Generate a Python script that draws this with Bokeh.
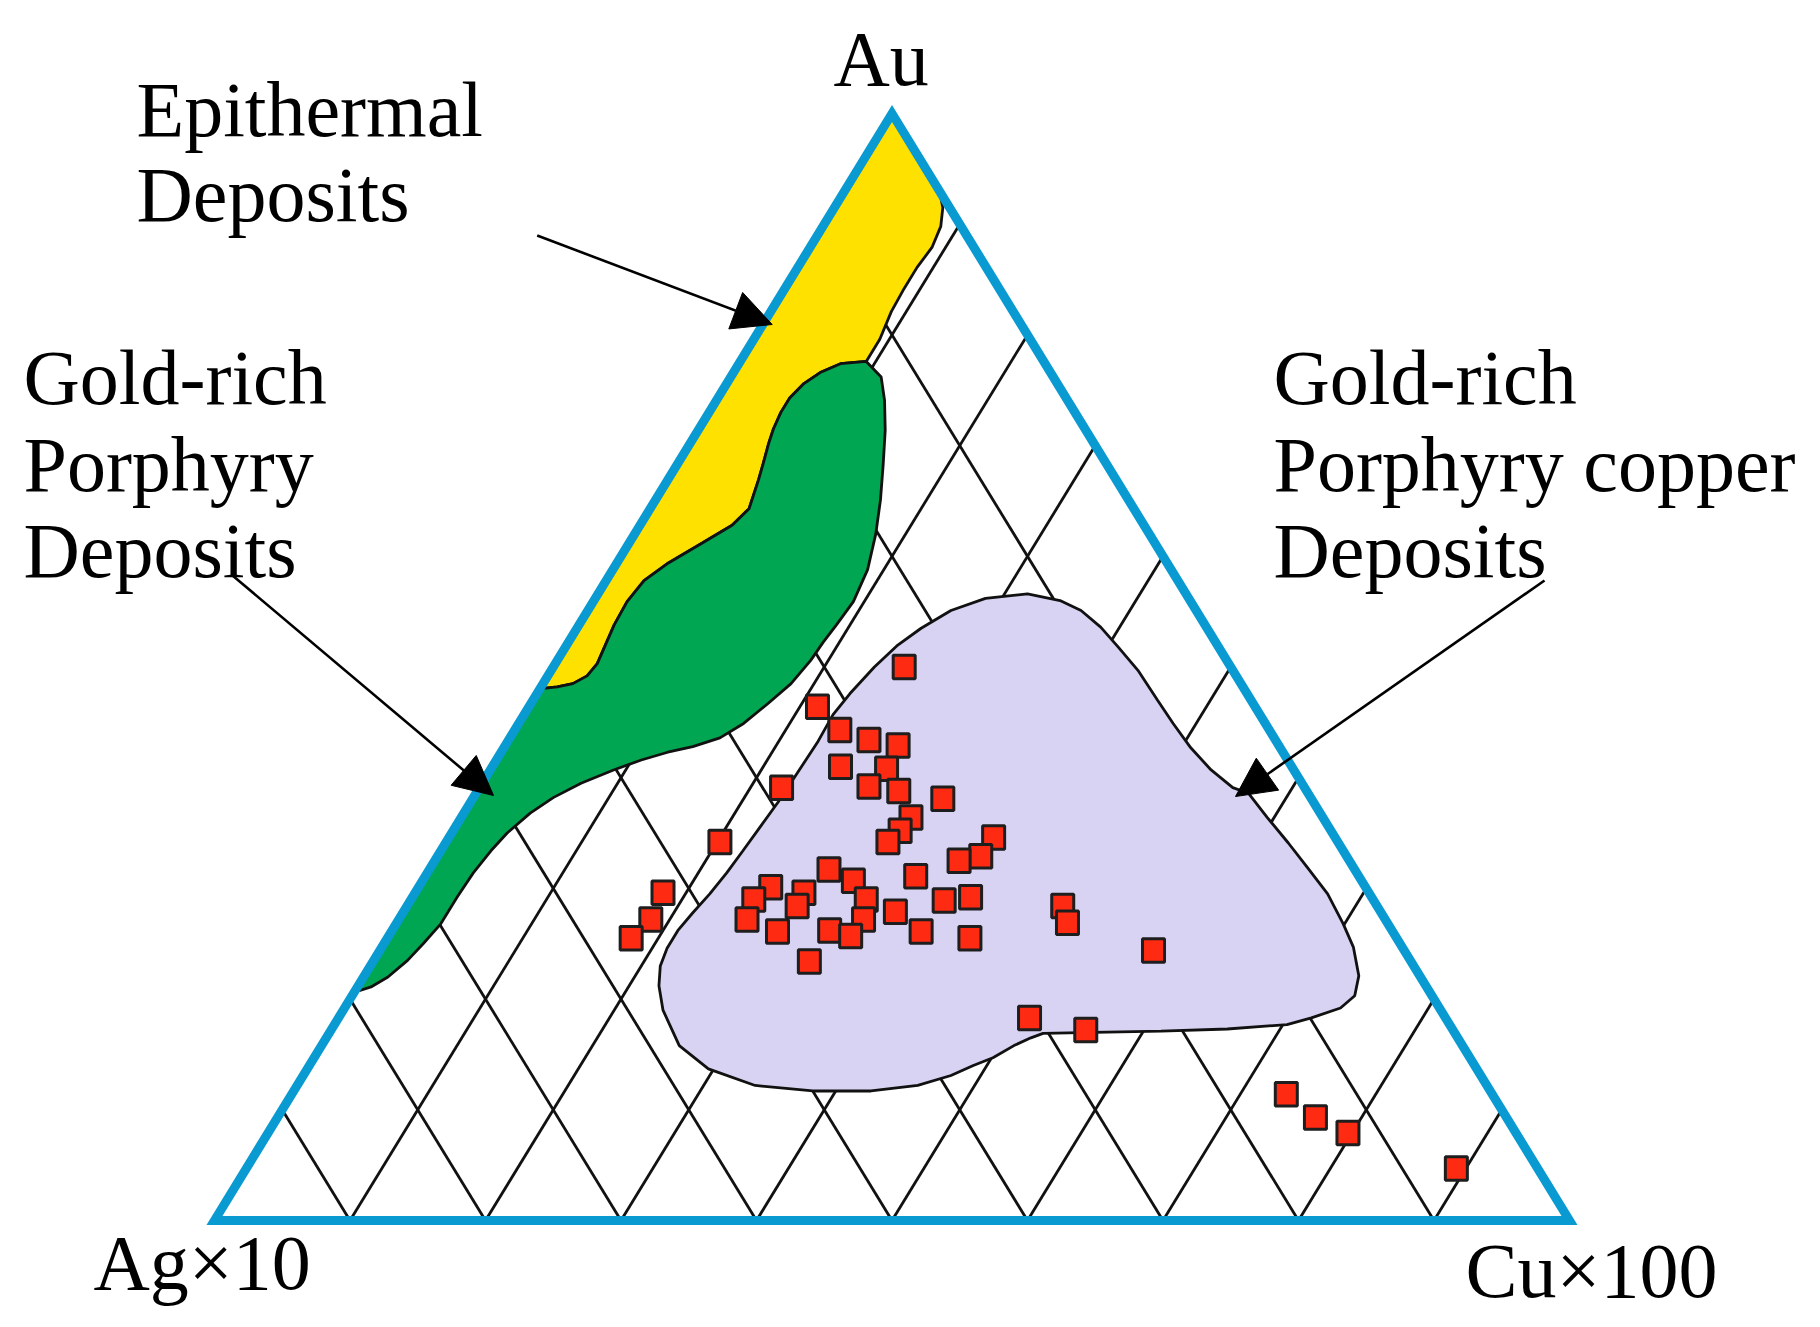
from bokeh.plotting import figure
from bokeh.models import Range1d, Arrow, NormalHead, ColumnDataSource
from bokeh.core.properties import value
from bokeh.embed import file_html
from bokeh.resources import INLINE

# ---------------- data (ternary %, Ag = 100 - Au - Cu) ----------------
SAMPLE_AU = [50.0, 46.4, 44.3, 43.4, 42.9, 41.0, 40.8, 39.2, 38.8, 38.1,
             39.1, 36.4, 35.2, 34.2, 34.6, 32.9, 32.5, 34.2, 31.7, 30.7,
             30.1, 29.6, 31.1, 29.6, 29.0, 29.0, 28.4, 28.9, 29.2, 27.2,
             27.2, 27.2, 27.9, 28.4, 26.9, 25.5, 26.1, 26.2, 25.7, 26.1,
             25.5, 23.4, 24.4, 18.3, 17.2, 11.4, 9.3, 7.9, 4.7]
SAMPLE_CU = [25.9, 21.3, 24.0, 26.6, 29.0, 25.7, 29.2, 28.7, 31.1, 34.7,
             22.3, 33.2, 33.0, 32.6, 40.2, 40.1, 38.7, 20.2, 29.5, 31.8,
             26.0, 28.7, 36.2, 18.3, 25.3, 33.6, 28.8, 39.4, 41.2, 18.6,
             25.7, 34.3, 36.3, 48.4, 49.5, 18.0, 28.5, 32.3, 34.1, 39.1,
             43.0, 32.2, 57.1, 51.0, 55.7, 73.4, 76.6, 79.7, 89.3]

# Epithermal field: outer (right) boundary from the Au apex
EPI_OUTER_AU = [100.0, 93.0, 91.5, 89.8, 87.9, 86.1, 84.2, 82.1, 79.6, 77.6]
EPI_OUTER_CU = [0.0, 7.0, 8.0, 8.7, 9.0, 8.8, 8.8, 8.9, 9.3, 9.3]
# boundary shared by the epithermal and gold-rich porphyry fields
SHARED_AU = [77.4, 76.6, 75.6, 74.3, 73.0, 71.5, 70.2, 68.4, 66.9, 64.3,
             62.8, 61.2, 59.4, 57.8, 55.9, 53.8, 52.4, 50.3, 49.2, 48.5,
             48.2, 48.1, 48.0]
SHARED_CU = [7.5, 6.4, 5.7, 5.3, 5.3, 5.5, 5.8, 6.3, 6.7, 7.3,
             6.8, 5.4, 3.8, 2.8, 2.5, 2.6, 2.8, 3.1, 2.9, 2.2,
             1.2, 0.4, 0.0]
# Gold-rich porphyry field: outer boundary
PORPH_AU = [77.6, 76.2, 74.1, 71.4, 68.3, 65.1, 62.0, 58.8, 55.9, 53.8,
            52.2, 50.6, 48.5, 46.7, 44.9, 43.6, 42.8, 42.3, 41.6, 40.7,
            39.5, 38.2, 36.8, 35.0, 33.4, 31.4, 29.2, 26.8, 25.0, 23.5,
            22.0, 21.1, 20.8, 20.8]
PORPH_CU = [9.3, 11.1, 12.4, 13.8, 15.2, 16.6, 17.8, 18.8, 19.2, 19.0,
            18.8, 18.7, 18.3, 17.5, 16.6, 15.5, 13.9, 12.3, 10.7, 9.1,
            7.3, 5.9, 4.9, 4.1, 3.7, 3.4, 3.3, 3.3, 2.9, 2.5,
            1.8, 1.0, 0.4, 0.0]
# Gold-rich porphyry copper field
CUPORPH_AU = [56.6, 56.0, 55.1, 53.6, 51.8, 49.7, 47.0, 44.9, 42.7, 40.7,
              39.1, 38.6, 36.4, 34.1, 31.9, 29.5, 26.8, 24.7, 22.1, 20.3,
              19.2, 18.3, 17.7, 17.3, 17.1, 17.0, 16.9, 16.5, 15.8, 14.7,
              14.0, 13.1, 12.2, 11.7, 11.7, 12.2, 13.7, 15.8, 19.0, 21.2,
              23.0, 24.6, 26.2, 27.8, 29.5, 31.4, 33.4, 35.6, 37.8, 40.4,
              43.3, 45.7, 47.6, 50.0, 51.9, 53.5, 55.1, 56.2]
CUPORPH_CU = [31.7, 34.4, 36.4, 38.6, 40.8, 43.3, 46.1, 48.3, 50.7, 53.2,
              55.6, 57.0, 59.5, 62.2, 64.7, 67.4, 69.9, 71.7, 73.4, 74.0,
              73.5, 71.8, 70.3, 66.1, 61.3, 56.4, 52.7, 52.0, 51.1, 50.1,
              49.0, 47.8, 45.8, 42.6, 38.3, 33.8, 29.6, 26.4, 23.6, 22.2,
              21.4, 21.1, 21.1, 21.4, 21.8, 22.1, 22.3, 22.5, 22.7, 22.8,
              22.9, 22.8, 23.1, 23.7, 24.4, 25.4, 26.8, 28.8]

GRID_LEVELS = [10, 20, 30, 40, 50, 60, 70, 80, 90]

APEX_LABELS = ["Au", "Ag\u00d710", "Cu\u00d7100"]
FIELD_LABELS = [["Epithermal", "Deposits"],
                ["Gold-rich", "Porphyry", "Deposits"],
                ["Gold-rich", "Porphyry copper", "Deposits"]]


# ---------------- helpers ----------------
def tern(au, cu):
    xs = [(c + a / 2.0) / 100.0 for a, c in zip(au, cu)]
    ys = [a / 100.0 for a in au]
    return xs, ys

# layout: triangle frame in page pixels (Ag corner, Cu corner, Au apex)
X_AG, X_CU, Y_BASE, Y_TOP = 214.0, 1569.0, 1220.0, 113.0
W_PX, H_PX = X_CU - X_AG, Y_BASE - Y_TOP
TEXT_DY = -27.0


def px(X, Y):
    return (X - X_AG) / W_PX, (Y_BASE - Y) / H_PX


FIG_W, FIG_H, OFFSET = 1804, 1324, 0
x0 = (OFFSET - X_AG) / W_PX
x1 = (OFFSET + FIG_W - X_AG) / W_PX
y1 = (Y_BASE - OFFSET) / H_PX
y0 = (Y_BASE - (OFFSET + FIG_H)) / H_PX

p = figure(width=FIG_W, height=FIG_H, x_range=Range1d(x0, x1), y_range=Range1d(y0, y1),
           output_backend="svg", toolbar_location=None, min_border=0,
           x_axis_location=None, y_axis_location=None)
p.grid.visible = False
p.outline_line_color = None
p.background_fill_color = "white"
p.border_fill_color = "white"

# grid: constant Cu lines and constant Ag lines
gx, gy = [], []
for k in GRID_LEVELS:
    a, b = tern([0, 100 - k], [k, k])
    gx.append(a); gy.append(b)
    a, b = tern([0, 100 - k], [100 - k, 0])
    gx.append(a); gy.append(b)
p.multi_line(gx, gy, line_color="#111111", line_width=2.8)

# fields
yel_x, yel_y = tern(EPI_OUTER_AU + SHARED_AU, EPI_OUTER_CU + SHARED_CU)
p.patch(yel_x, yel_y, fill_color="#FFE100", line_color="#111111", line_width=2.8)
grn_x, grn_y = tern(PORPH_AU + SHARED_AU[::-1], PORPH_CU + SHARED_CU[::-1])
p.patch(grn_x, grn_y, fill_color="#00A651", line_color="#111111", line_width=2.8)
lav_x, lav_y = tern(CUPORPH_AU, CUPORPH_CU)
p.patch(lav_x, lav_y, fill_color="#D9D3F3", line_color="#111111", line_width=2.8)

# triangle frame
tx, ty = tern([0, 0, 100], [0, 100, 0])
p.patch(tx, ty, fill_color=None, line_color="#0A9AD2", line_width=9, line_join="miter")

# samples
sx, sy = tern(SAMPLE_AU, SAMPLE_CU)
p.rect(sx, sy, width=22, height=23.5, width_units="screen", height_units="screen",
       fill_color="#FF2A12", line_color="#1E1E1E", line_width=3)

# arrows
for (xs_, ys_), (xe_, ye_) in [((536.7, 235.0), (771.7, 324.0)),
                               ((232.0, 575.0), (493.0, 795.0)),
                               ((1544.0, 580.0), (1235.0, 796.0))]:
    a0, b0 = px(xs_, ys_)
    a1, b1 = px(xe_, ye_)
    p.add_layout(Arrow(end=NormalHead(size=39, fill_color="black", line_color="black", line_width=1),
                       x_start=a0, y_start=b0, x_end=a1, y_end=b1,
                       line_color="black", line_width=2.6))

# texts
txt, tx_, ty_ = [], [], []
def add(t, X, Y):
    a, b = px(X, Y + TEXT_DY)
    txt.append(t); tx_.append(a); ty_.append(b)

add(APEX_LABELS[0], 833, 85)
add(APEX_LABELS[1], 93, 1289)
add(APEX_LABELS[2], 1465, 1297)
for i, t in enumerate(FIELD_LABELS[0]):
    add(t, 136, 136 + 85 * i)
for i, t in enumerate(FIELD_LABELS[1]):
    add(t, 23, 404 + 86.5 * i)
for i, t in enumerate(FIELD_LABELS[2]):
    add(t, 1273, 404 + 86.5 * i)

src = ColumnDataSource(dict(x=tx_, y=ty_, text=txt))
p.text("x", "y", text="text", source=src, text_font=value("Liberation Serif"),
       text_font_size="78px", text_color="black", text_align="left",
       text_baseline="alphabetic")

open("out.html", "w").write(file_html(p, INLINE))
